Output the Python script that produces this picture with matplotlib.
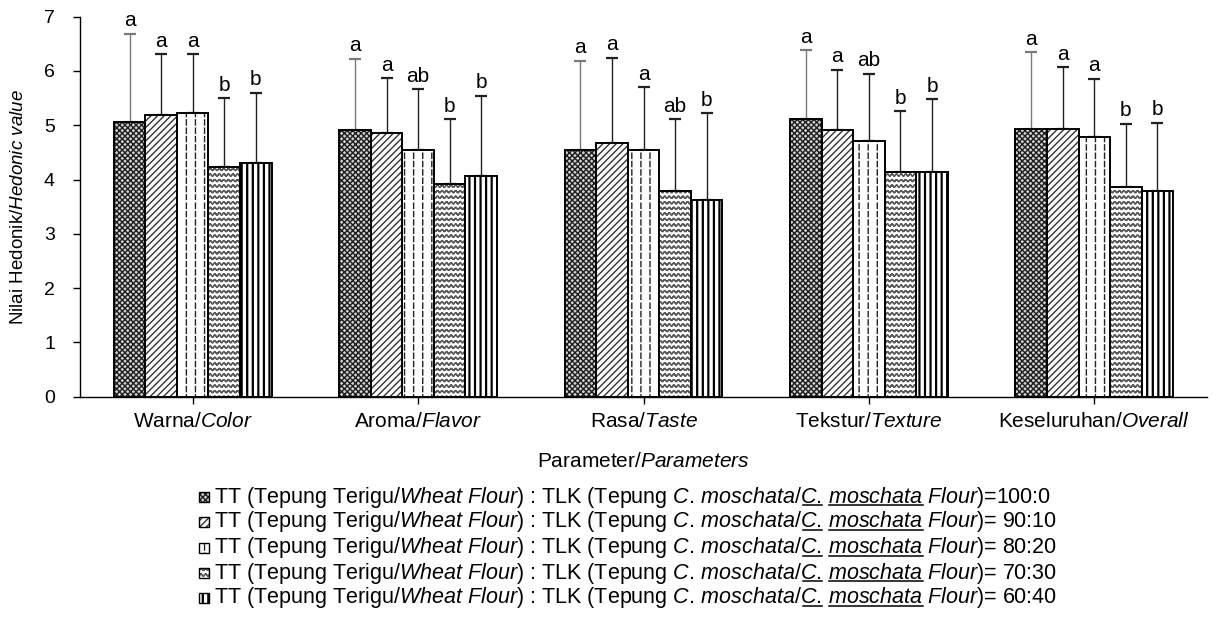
import warnings
import numpy as np
import matplotlib
matplotlib.use("Agg")
import matplotlib.pyplot as plt
from matplotlib import hatch as mhatch
from matplotlib.path import Path
from matplotlib.patches import Rectangle
from matplotlib.lines import Line2D
from matplotlib.font_manager import FontProperties
from matplotlib.transforms import IdentityTransform

warnings.filterwarnings("ignore")

# ---------------- data ----------------
categories = ["Warna", "Aroma", "Rasa", "Tekstur", "Keseluruhan"]
categories_en = ["Color", "Flavor", "Taste", "Texture", "Overall"]
ratios = ["=100:0", "= 90:10", "= 80:20", "= 70:30", "= 60:40"]

mean_100_0 = [5.06, 4.91, 4.54, 5.11, 4.94]
mean_90_10 = [5.19, 4.86, 4.67, 4.91, 4.94]
mean_80_20 = [5.23, 4.54, 4.54, 4.71, 4.79]
mean_70_30 = [4.24, 3.91, 3.79, 4.14, 3.87]
mean_60_40 = [4.31, 4.07, 3.62, 4.14, 3.79]

sd_100_0 = [1.63, 1.32, 1.65, 1.27, 1.41]
sd_90_10 = [1.12, 1.01, 1.57, 1.11, 1.13]
sd_80_20 = [1.08, 1.12, 1.16, 1.24, 1.07]
sd_70_30 = [1.26, 1.20, 1.32, 1.12, 1.16]
sd_60_40 = [1.29, 1.47, 1.60, 1.34, 1.26]

letters_100_0 = ["a", "a", "a", "a", "a"]
letters_90_10 = ["a", "a", "a", "a", "a"]
letters_80_20 = ["a", "ab", "a", "ab", "a"]
letters_70_30 = ["b", "b", "ab", "b", "b"]
letters_60_40 = ["b", "b", "b", "b", "b"]

means = [mean_100_0, mean_90_10, mean_80_20, mean_70_30, mean_60_40]
sds = [sd_100_0, sd_90_10, sd_80_20, sd_70_30, sd_60_40]
letters = [letters_100_0, letters_90_10, letters_80_20, letters_70_30, letters_60_40]


# ---------------- custom hatches ----------------
class DashedVerticalHatch(mhatch.HatchPatternBase):
    def __init__(self, hatch, density):
        self.num_lines = 11 if ":" in hatch else 0
        self.num_dashes = 12
        self.num_vertices = self.num_lines * self.num_dashes * 2

    def set_vertices_and_codes(self, vertices, codes):
        step = 1.0 / self.num_dashes
        k = 0
        for i in range(self.num_lines):
            x = (i + 0.5) / self.num_lines
            for j in range(self.num_dashes):
                vertices[k] = (x, j * step)
                vertices[k + 1] = (x, j * step + 0.62 * step)
                codes[k] = Path.MOVETO
                codes[k + 1] = Path.LINETO
                k += 2


class WavyHatch(mhatch.HatchPatternBase):
    def __init__(self, hatch, density):
        self.num_lines = 18 if "~" in hatch else 0
        self.periods = 22
        self.segs = 6
        self.num_vertices = self.num_lines * self.periods * self.segs * 2

    def set_vertices_and_codes(self, vertices, codes):
        n = self.periods * self.segs
        xs = np.linspace(0, 1, n + 1)
        amp = 0.010
        k = 0
        for i in range(self.num_lines):
            y0 = (i + 0.5) / self.num_lines
            ys = y0 + amp * np.sin(2 * np.pi * self.periods * xs)
            for j in range(n):
                vertices[k] = (xs[j], ys[j])
                vertices[k + 1] = (xs[j + 1], ys[j + 1])
                codes[k] = Path.MOVETO
                codes[k + 1] = Path.LINETO
                k += 2


class ThickStripeHatch(mhatch.HatchPatternBase):
    def __init__(self, hatch, density):
        self.num_lines = 18 if "#" in hatch else 0
        self.num_vertices = self.num_lines * 5

    def set_vertices_and_codes(self, vertices, codes):
        w = 0.004
        k = 0
        for i in range(self.num_lines):
            x = (i + 0.5) / self.num_lines
            vertices[k:k + 5] = [(x - w, 0), (x + w, 0), (x + w, 1), (x - w, 1), (x - w, 0)]
            codes[k:k + 5] = [Path.MOVETO, Path.LINETO, Path.LINETO, Path.LINETO, Path.CLOSEPOLY]
            k += 5


mhatch._hatch_types.extend([DashedVerticalHatch, WavyHatch, ThickStripeHatch])

styles = [
    dict(hatch="xxxxxx", hc="#1e1e1e", fc="#d0d0d0"),
    dict(hatch="/////", hc="#333333", fc="white"),
    dict(hatch=":", hc="#222222", fc="white"),
    dict(hatch="~", hc="#5a5a5a", fc="white"),
    dict(hatch="#", hc="#000000", fc="white"),
]
err_colors = ["#7a7a7a", "#202020", "#202020", "#202020", "#202020"]

# ---------------- figure ----------------
plt.rcParams["font.family"] = ["Liberation Sans", "DejaVu Sans"]
plt.rcParams["mathtext.fontset"] = "custom"
plt.rcParams["mathtext.rm"] = "Liberation Sans"
plt.rcParams["mathtext.it"] = "Liberation Sans:italic"
plt.rcParams["hatch.linewidth"] = 1.0
FS_X = 15
FS_Y = 14
FS_YL = 13.5
FS_LET = 15
FS_LEG = 15.5

W, H = 1217, 638
fig = plt.figure(figsize=(W / 100, H / 100), dpi=100)
ax = fig.add_axes([80 / W, 1 - 396.7 / H, 1127 / W, 380 / H])

n_series = len(means)
x = np.arange(len(categories))
bw = 0.14
offsets = (np.arange(n_series) - (n_series - 1) / 2) * bw

for i in range(n_series):
    xp = x + offsets[i]
    ax.errorbar(xp, means[i], yerr=[np.zeros(len(x)), sds[i]], fmt="none",
                ecolor=err_colors[i], elinewidth=1.0, capsize=4.5, capthick=1.6, zorder=1)
    ax.bar(xp, means[i], bw, color=styles[i]["fc"], edgecolor=styles[i]["hc"],
           hatch=styles[i]["hatch"], linewidth=0, zorder=2)
    ax.bar(xp, means[i], bw, fill=False, edgecolor="black", linewidth=1.4, zorder=3)
    for xi, m, s, lt in zip(xp, means[i], sds[i], letters[i]):
        ax.annotate(lt, (xi, m + s), xytext=(0, 2.5), textcoords="offset points",
                    ha="center", va="bottom", fontsize=FS_LET, annotation_clip=False)

ax.set_xlim(-0.5, len(categories) - 0.5)
ax.set_ylim(0, 7)
ax.set_yticks(range(0, 8))
ax.set_xticks(x)
ax.set_xticklabels([f"{c}/$\\mathit{{{e}}}$" for c, e in zip(categories, categories_en)])
ax.tick_params(axis="both", direction="out", length=5, width=1, colors="black")
ax.tick_params(axis="x", pad=6, labelsize=FS_X)
ax.tick_params(axis="y", pad=13, labelsize=FS_Y)
for s in ["top", "right"]:
    ax.spines[s].set_visible(False)
for s in ["left", "bottom"]:
    ax.spines[s].set_linewidth(1.0)
ax.set_ylabel("Nilai Hedonik/$\\mathit{Hedonic\\ value}$", fontsize=FS_YL)
ax.yaxis.set_label_coords((27 - 80) / 1127, 0.5)
ax.set_xlabel("Parameter/$\\mathit{Parameters}$", fontsize=FS_X, labelpad=15)

# ---------------- legend (manual, with underlines) ----------------
row_y = [497, 522, 548, 573, 598]
mark_x = 199
text_x = 214
fig.canvas.draw()
renderer = fig.canvas.get_renderer()
prop = FontProperties(family=["Liberation Sans"], size=FS_LEG)


def mwidth(s):
    w, h, d = renderer.get_text_width_height_descent(s, prop, ismath=True)
    return w


for i in range(n_series):
    yc = row_y[i]
    yb_px = yc + 5.5  # baseline in top-origin pixels
    yb = 1 - yb_px / H
    fig.add_artist(Rectangle((mark_x / W, 1 - (yc + 5) / H), 10 / W, 10 / H,
                             transform=fig.transFigure, facecolor=styles[i]["fc"],
                             edgecolor=styles[i]["hc"], hatch=styles[i]["hatch"], linewidth=0))
    fig.add_artist(Rectangle((mark_x / W, 1 - (yc + 5) / H), 10 / W, 10 / H,
                             transform=fig.transFigure, fill=False,
                             edgecolor="black", linewidth=1.0))
    # "\!" cancels the extra space mathtext adds after a period
    pre_a = (r"TT (Tepung Terigu/$\mathit{Wheat\ Flour}$) : TLK (Tepung "
             r"$\mathit{C.\,moschata/}$")
    part_c = r"$\mathit{C.\!}$"
    part_m = r"$\mathit{moschata}$"
    rest = r" $\mathit{Flour}$)" + ratios[i]
    full = pre_a + part_c + " " + part_m + rest
    fig.text(text_x / W, yb, full, ha="left", va="baseline", fontsize=FS_LEG)
    # underline positions measured from the same mathtext layout
    x_a = mwidth(pre_a)
    x_c = mwidth(pre_a + part_c)
    x_m_end = mwidth(pre_a + part_c + " " + part_m)
    x_m_start = x_m_end - mwidth(part_m)
    yd = H - yb_px - 2.6
    for xs, xe in [(x_a + 1.0, x_c + 0.5), (x_m_start + 0.5, x_m_end)]:
        fig.add_artist(Line2D([text_x + xs, text_x + xe], [yd, yd],
                              transform=IdentityTransform(), color="black", linewidth=1.1))

fig.savefig("out.png", dpi=100)
